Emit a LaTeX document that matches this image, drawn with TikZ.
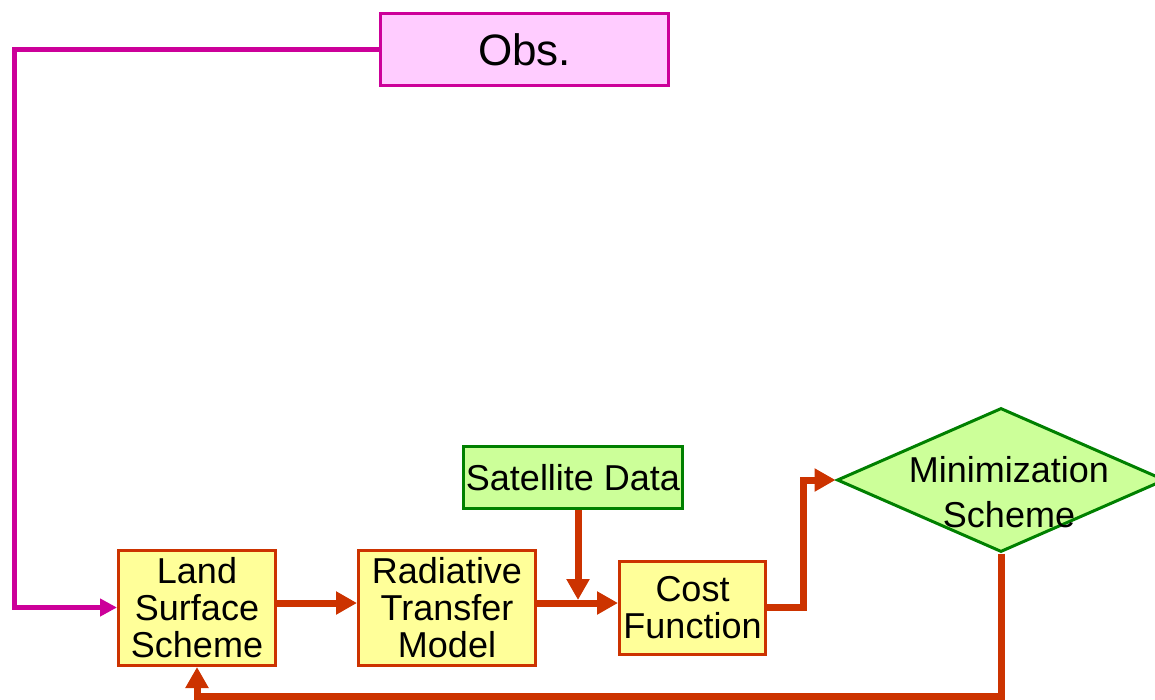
\documentclass[tikz,border=0pt]{standalone}
\usepackage{fontspec}
\setmainfont{Liberation Sans}
\usetikzlibrary{arrows.meta,shapes.geometric}

\definecolor{flowred}{HTML}{CC3300}
\definecolor{boxyellow}{HTML}{FFFF99}
\definecolor{datagreen}{HTML}{008000}
\definecolor{datafill}{HTML}{CCFF99}
\definecolor{obsline}{HTML}{CC0099}
\definecolor{obsfill}{HTML}{FFCCFF}

\tikzset{
  procbox/.style={draw=flowred, fill=boxyellow, line width=3pt, rectangle,
    inner sep=0pt, align=center, font=\fontsize{36}{37}\selectfont},
  databox/.style={draw=datagreen, fill=datafill, line width=3pt, rectangle,
    inner sep=0pt, align=center, font=\fontsize{36}{37}\selectfont},
  obsbox/.style={draw=obsline, fill=obsfill, line width=3pt, rectangle,
    inner sep=0pt, font=\fontsize{44}{46}\selectfont},
  decision/.style={draw=datagreen, fill=datafill, line width=3pt, diamond,
    inner sep=0pt, minimum width=328pt, minimum height=144pt},
  flow/.style={draw=flowred, line width=7pt,
    -{Triangle[length=21pt,width=22pt]}},
  obsflow/.style={draw=obsline, line width=5pt,
    -{Triangle[length=17pt,width=17pt]}},
}

\begin{document}
\begin{tikzpicture}[x=1pt, y=-1pt]
\useasboundingbox (0,0) rectangle (1155,699);

% boxes
\node[obsbox, minimum width=288pt, minimum height=72pt] (obs) at (524.5,49.5) {Obs.};
\node[procbox, minimum width=157pt, minimum height=115pt] (land) at (197,608) {Land\\Surface\\Scheme};
\node[procbox, minimum width=177pt, minimum height=115pt] (rtm) at (447,608) {Radiative\\Transfer\\Model};
\node[procbox, minimum width=146pt, minimum height=93pt] (cost) at (692.5,608) {Cost\\Function};
\node[databox, minimum width=219pt, minimum height=62pt] (sat) at (573,477.5) {Satellite Data};
\node[decision] (min) at (1001,480) {};
\node[align=center, inner sep=0pt, font=\fontsize{36}{45}\selectfont] (minlabel) at (1009,492) {Minimization\\Scheme};

% routing points
\coordinate (obsturn) at (14,49.5);
\coordinate (obsin) at (0,607.5);
\coordinate (mainrow) at (0,603);
\coordinate (join) at (578,600);
\coordinate (costturn) at (803,607);
\coordinate (fbrow) at (0,696);

% connectors
\draw[obsflow] (obs.west) -- (obsturn) |- (land.west |- obsin);
\draw[flow] (land.east |- mainrow) -- (rtm.west |- mainrow);
\draw[flow] (rtm.east |- mainrow) -- (cost.west |- mainrow);
\draw[flow] (sat.south -| join) -- (join);
\draw[flow] (cost.east |- costturn) -- (costturn) |- (min.west);
\draw[flow] (min.south) -- (min.south |- fbrow) -| (land.south);
\end{tikzpicture}
\end{document}
